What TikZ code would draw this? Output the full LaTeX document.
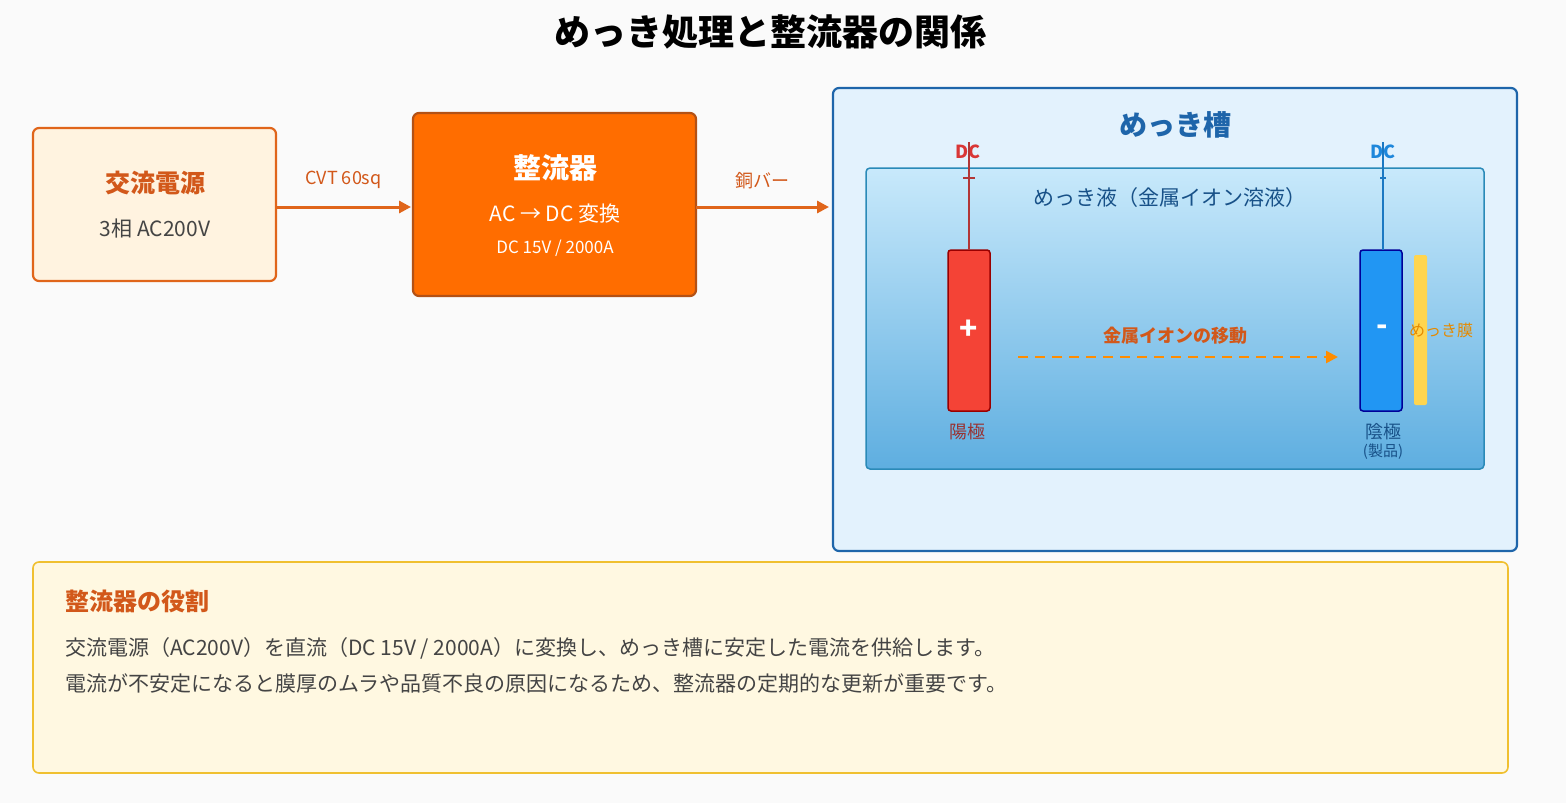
\documentclass[tikz,border=0pt]{standalone}
\usepackage{fontspec}
\setmainfont{Noto Sans CJK JP}
\usetikzlibrary{positioning,arrows.meta}
\definecolor{bgpage}{HTML}{FAFAFA}
\definecolor{acfill}{HTML}{FFF3E0}
\definecolor{orgline}{HTML}{E0651A}
\definecolor{orgtext}{HTML}{D2581A}
\definecolor{rectfill}{HTML}{FF6D00}
\definecolor{tankfill}{HTML}{E3F2FD}
\definecolor{tankline}{HTML}{1E65AA}
\definecolor{liqtop}{HTML}{C8E9FB}
\definecolor{liqbot}{HTML}{5EAEE0}
\definecolor{liqline}{HTML}{2A8AB8}
\definecolor{anodered}{HTML}{F44336}
\definecolor{cathblue}{HTML}{2196F3}
\definecolor{filmyel}{HTML}{FFD54F}
\definecolor{notefill}{HTML}{FFF8E1}
\definecolor{noteline}{HTML}{F0C030}
\definecolor{txtgray}{HTML}{444444}

\begin{document}
\begin{tikzpicture}[
            x = 1pt, y = -1pt, % pixel grid
            > = {Triangle[length=12pt,width=12pt]},
            font = \fontsize{18}{21}\selectfont,
            every node/.style = {inner sep = 0pt}
        ]

        \tikzset{
            box/.style = {draw, line width = 2.2pt, rounded corners = 6pt},
            feed/.style = {->, orgline, line width = 3pt},
            wire/.style = {line width = 1.6pt},
            electrode/.style = {draw, line width = 1.5pt, rounded corners = 3pt}
        }

        \fill[bgpage] (0,0) rectangle (1566,803);

        % title
        \node (title) at (770,32) {\fontsize{36}{40}\selectfont\bfseries めっき処理と整流器の関係};

	% power source
        \draw[box, orgline, fill = acfill] (33,128) rectangle (276,281);
        \node[orgtext] (AC) at (155,183) {\fontsize{25}{28}\selectfont\bfseries 交流電源};
        \node[txtgray] (ACv) at (155,229) {\fontsize{21}{24}\selectfont 3相 AC200V};
        \coordinate (ACout) at (276,207);

        % rectifier
        \draw[box, orgline!80!black, fill = rectfill] (413,113) rectangle (696,296);
        \node[white] (R) at (555,168) {\fontsize{28}{30}\selectfont\bfseries 整流器};
        \node[white] (Rconv) at (555,214) {\fontsize{21}{24}\selectfont AC → DC 変換};
        \node[white] (Rrate) at (555,248) {\fontsize{17}{20}\selectfont DC 15V / 2000A};
        \coordinate (Rin) at (411,207);
        \coordinate (Rout) at (696,207);
        \coordinate (Tin) at (829,207);

        \draw[feed] (ACout) -- (Rin) node[midway, above = 17pt, orgtext] {CVT 60sq};
        \draw[feed] (Rout) -- (Tin) node[midway, above = 17pt, orgtext] {銅バー};

        % plating tank
        \draw[box, tankline, fill = tankfill] (833,88) rectangle (1517,551);
        \node[tankline] (T) at (1175,125) {\fontsize{28}{30}\selectfont\bfseries めっき槽};
        \draw[liqline, line width = 1.5pt, rounded corners = 4pt, top color = liqtop, bottom color = liqbot]
            (866,168) rectangle (1484,469);
        \node[tankline!80!black] (L) at (1170,198) {\fontsize{21}{24}\selectfont めっき液（金属イオン溶液）};

        % anode
        \node[red!75!white!85!black] (DCa) at (968,152) {\bfseries DC};
        \draw[electrode, red!60!black, fill = anodered] (948,250) rectangle (990,411);
        \coordinate (Atop) at (969,250);
        \draw[wire, red!70!white!70!black] (969,142) -- (Atop);
        \draw[wire, red!70!white!70!black] (963,178) -- (975,178);
        \node[white] (plus) at (969,330) {\fontsize{30}{32}\selectfont\bfseries +};
        \node[red!50!black!80!white] (An) at (967,432) {陽極};

        % cathode
        \node[cathblue!90!black] (DCc) at (1383,152) {\bfseries DC};
        \draw[electrode, blue!60!black, fill = cathblue] (1360,250) rectangle (1402,411);
        \coordinate (Ctop) at (1383,250);
        \draw[wire, cathblue!80!black] (1383,142) -- (Ctop);
        \draw[wire, cathblue!80!black] (1380,178) -- (1386,178);
        \node[white] (minus) at (1382,330) {\fontsize{30}{32}\selectfont\bfseries -};
        \node[tankline!80!black] (Ca) at (1383,432) {陰極};
        \node[tankline!80!black] (Cb) at (1383,452) {\fontsize{15}{17}\selectfont (製品)};

        % plated film
        \fill[filmyel, rounded corners = 2pt] (1414,255) rectangle (1427,405);
        \node[orange!80!yellow!90!black] (F) at (1441,330) {\fontsize{16}{18}\selectfont めっき膜};

        % ion flow
        \coordinate (I1) at (1018,357);
        \coordinate (I2) at (1338,357);
        \draw[->, dashed, dash pattern = on 10pt off 7pt, orange!90!yellow, line width = 2.5pt] (I1) -- (I2);
        \node[orgtext] (Ion) at (1175,336) {\bfseries 金属イオンの移動};

        % note
        \draw[noteline, line width = 1.6pt, fill = notefill, rounded corners = 6pt] (33,562) rectangle (1508,773);
        \node[orgtext, anchor = west] (N) at (65,601) {\fontsize{24}{28}\selectfont\bfseries 整流器の役割};
        \node[txtgray, anchor = west] (N1) at (65,648) {\fontsize{21}{24}\selectfont 交流電源（AC200V）を直流（DC 15V / 2000A）に変換し、めっき槽に安定した電流を供給します。};
        \node[txtgray, anchor = west] (N2) at (65,684) {\fontsize{21}{24}\selectfont 電流が不安定になると膜厚のムラや品質不良の原因になるため、整流器の定期的な更新が重要です。};
\end{tikzpicture}
\end{document}
